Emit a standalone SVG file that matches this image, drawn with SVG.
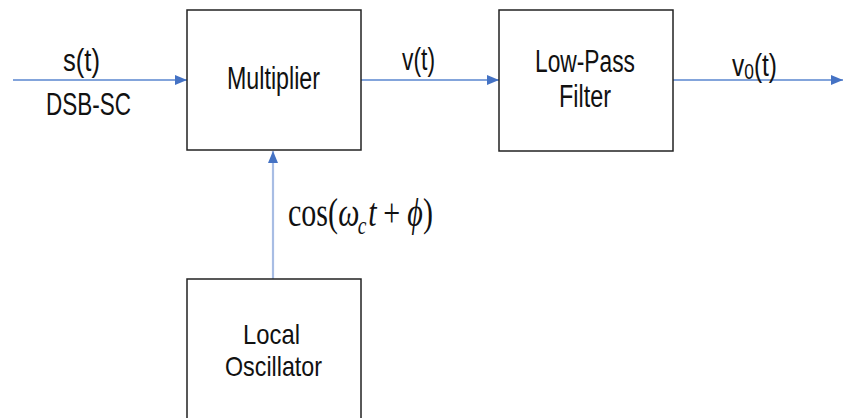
<svg xmlns="http://www.w3.org/2000/svg" width="843" height="418" viewBox="0 0 843 418">
<defs>
<marker id="ah" markerWidth="12" markerHeight="10" refX="12" refY="5" orient="auto" markerUnits="userSpaceOnUse">
<path d="M0,0 L12,5 L0,10 Z" fill="#4472C4"/>
</marker>
<style>
.box{fill:#fff;stroke:#222;stroke-width:1.5}
.lbl{font-family:"Liberation Sans",Arial,sans-serif;font-size:31px;fill:#111}
.ln{stroke:#5A86CF;stroke-width:1.6;fill:none}
.lnv{stroke:#A8BDE4;stroke-width:2.2;fill:none}
.math{font-family:"Liberation Serif","Times New Roman",serif;font-size:40px;fill:#111}
</style>
</defs>
<rect width="843" height="418" fill="#fff"/>
<g id="connectors">
<line class="ln" x1="13" y1="80" x2="187" y2="80" marker-end="url(#ah)"/>
<line class="ln" x1="361" y1="80" x2="499" y2="80" marker-end="url(#ah)"/>
<line class="ln" x1="673" y1="80" x2="843" y2="80" marker-end="url(#ah)"/>
<line class="lnv" x1="273" y1="279" x2="273" y2="151" marker-end="url(#ah)"/>
</g>
<g id="multiplier">
<rect class="box" x="187" y="10" width="174" height="140"/>
<text class="lbl" x="227" y="89" textLength="93" lengthAdjust="spacingAndGlyphs">Multiplier</text>
</g>
<g id="lpf">
<rect class="box" x="499" y="10" width="174" height="141"/>
<text class="lbl" x="535" y="72" textLength="100" lengthAdjust="spacingAndGlyphs">Low-Pass</text>
<text class="lbl" x="559" y="107" textLength="52" lengthAdjust="spacingAndGlyphs">Filter</text>
</g>
<g id="oscillator">
<rect class="box" x="187" y="279" width="174" height="150"/>
<text class="lbl" x="243" y="344" style="font-size:28px" textLength="57" lengthAdjust="spacingAndGlyphs">Local</text>
<text class="lbl" x="225" y="376" style="font-size:28px" textLength="97" lengthAdjust="spacingAndGlyphs">Oscillator</text>
</g>
<g id="labels">
<text class="lbl" x="63" y="71" textLength="37" lengthAdjust="spacingAndGlyphs">s(t)</text>
<text class="lbl" x="46" y="115" textLength="85" lengthAdjust="spacingAndGlyphs">DSB-SC</text>
<text class="lbl" x="402" y="70" textLength="33" lengthAdjust="spacingAndGlyphs">v(t)</text>
<text class="lbl" x="732" y="76" textLength="45" lengthAdjust="spacingAndGlyphs">v<tspan dy="3" style="font-size:22px">0</tspan><tspan dy="-3">(t)</tspan></text>
<g transform="translate(288,226) scale(0.75,1)">
<text class="math" x="0" y="0">cos(</text>
<text class="math" x="67" y="0" font-style="italic">ω</text>
<text class="math" x="93" y="8" font-style="italic" style="font-size:26px">c</text>
<text class="math" x="107" y="0" font-style="italic">t</text>
<text class="math" x="127" y="0">+</text>
<text class="math" x="159" y="0" font-style="italic">ϕ</text>
<text class="math" x="180" y="0">)</text>
</g>
</g>
</svg>
